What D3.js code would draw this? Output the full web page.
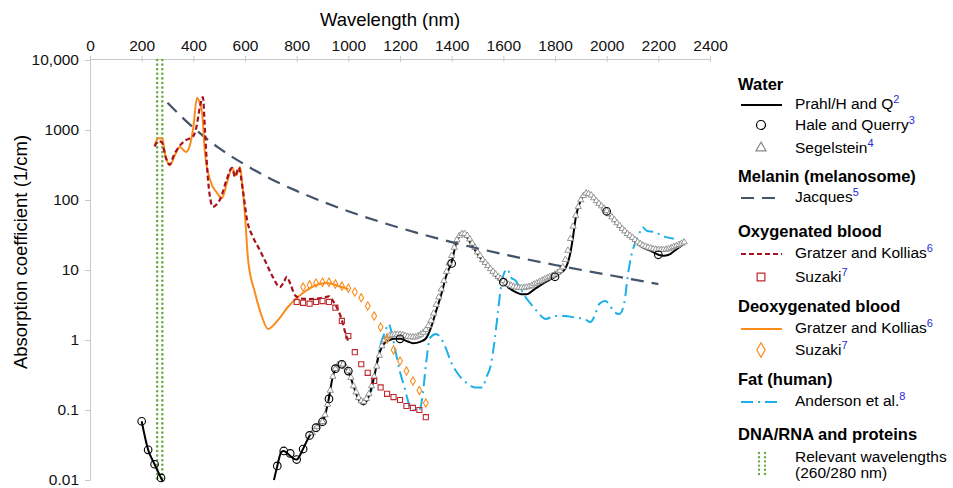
<!DOCTYPE html>
<html>
<head>
<meta charset="utf-8">
<script src="https://cdn.jsdelivr.net/npm/d3@7"></script>
<style>
  body { margin: 0; background: #fff; }
  svg { font-family: "Liberation Sans", Arial, sans-serif; }
</style>
</head>
<body>
<svg id="chart" width="953" height="488"></svg>
<script>
// axis ticks
const wlTicks = [0, 200, 400, 600, 800, 1000, 1200, 1400, 1600, 1800, 2000, 2200, 2400];
const absTicks = [0.01, 0.1, 1, 10, 100, 1000, 10000];

// water (Prahl / Hale and Querry) line, null = gap
const prahl = [
  [200, 0.069], [225, 0.027], [250, 0.0168], [275, 0.0107], [282, 0.0095], [500, null],
  [712, 0.0100], [725, 0.0159], [740, 0.025], [750, 0.026], [770, 0.023], [790, 0.020], [800, 0.0196],
  [825, 0.028], [850, 0.043], [875, 0.056], [900, 0.068], [920, 0.12], [940, 0.30], [960, 0.44],
  [975, 0.46], [990, 0.40], [1000, 0.36], [1020, 0.22], [1040, 0.14], [1060, 0.12], [1080, 0.16],
  [1100, 0.30], [1120, 0.65], [1140, 0.90], [1160, 1.00], [1180, 1.04], [1200, 1.04], [1230, 0.95],
  [1250, 0.90], [1280, 0.95], [1300, 1.05], [1320, 1.5], [1340, 2.6], [1360, 4.5], [1380, 8.5],
  [1400, 13], [1420, 26], [1440, 32], [1460, 29], [1480, 22], [1500, 17], [1520, 13.5], [1550, 10.5],
  [1580, 7.5], [1600, 6.7], [1620, 5.6], [1650, 4.8], [1670, 4.5], [1690, 4.5], [1720, 5.3],
  [1750, 6.3], [1780, 7.3], [1800, 8.0], [1820, 9.0], [1840, 10.5], [1860, 18], [1870, 30],
  [1880, 55], [1900, 100], [1920, 125], [1940, 115], [1960, 95], [1980, 80], [2000, 69], [2020, 56],
  [2040, 46], [2060, 38], [2080, 33], [2100, 28], [2120, 24], [2140, 21], [2160, 19.5], [2180, 18],
  [2200, 16.5], [2220, 16], [2240, 16.5], [2260, 18.5], [2280, 21], [2300, 24]
];

const haleQuerry = [
  [200, 0.069], [225, 0.027], [250, 0.0168], [275, 0.0107], [725, 0.0159], [750, 0.026],
  [775, 0.024], [800, 0.0196], [825, 0.0277], [850, 0.0433], [875, 0.056], [900, 0.068],
  [925, 0.144], [950, 0.39], [975, 0.45], [1000, 0.36], [1200, 1.04], [1400, 12.4],
  [1600, 6.7], [1800, 8.0], [2000, 69], [2200, 16.5]
];

const segelstein = [
  [860, 0.047], [870, 0.052], [880, 0.058], [890, 0.063], [900, 0.068], [910, 0.085], [920, 0.12],
  [930, 0.19], [940, 0.30], [950, 0.39], [960, 0.44], [970, 0.46], [980, 0.45], [990, 0.41],
  [1000, 0.36], [1010, 0.29], [1020, 0.22], [1030, 0.18], [1040, 0.15], [1050, 0.135], [1060, 0.13],
  [1070, 0.145], [1080, 0.17], [1090, 0.22], [1100, 0.30], [1110, 0.42], [1120, 0.60], [1130, 0.82],
  [1140, 1.0], [1150, 1.1], [1160, 1.15], [1170, 1.18], [1180, 1.2], [1190, 1.2], [1200, 1.2],
  [1210, 1.18], [1220, 1.15], [1230, 1.12], [1240, 1.1], [1250, 1.1], [1260, 1.1], [1270, 1.14],
  [1280, 1.2], [1290, 1.28], [1300, 1.4], [1310, 1.6], [1320, 1.9], [1330, 2.4], [1340, 3.2],
  [1350, 4.1], [1360, 5.3], [1370, 7.0], [1380, 9.5], [1390, 12.5], [1400, 16], [1410, 21],
  [1420, 27], [1430, 31], [1440, 33], [1450, 33], [1460, 31], [1470, 27.5], [1480, 24], [1490, 21],
  [1500, 18], [1510, 16], [1520, 14], [1530, 12.7], [1540, 11.5], [1550, 10.4], [1560, 9.5],
  [1570, 8.7], [1580, 8], [1590, 7.5], [1600, 7], [1610, 6.6], [1620, 6.2], [1630, 6.0], [1640, 5.8],
  [1650, 5.7], [1660, 5.6], [1670, 5.6], [1680, 5.6], [1690, 5.7], [1700, 5.8], [1710, 6.0],
  [1720, 6.3], [1730, 6.5], [1740, 6.8], [1750, 7.1], [1760, 7.4], [1770, 7.7], [1780, 8],
  [1790, 8.3], [1800, 8.7], [1810, 9.2], [1820, 9.8], [1830, 11], [1840, 14], [1850, 19], [1860, 28],
  [1870, 42], [1880, 60], [1890, 80], [1900, 100], [1910, 115], [1920, 125], [1930, 123], [1940, 117],
  [1950, 107], [1960, 97], [1970, 89], [1980, 82], [1990, 76], [2000, 70], [2010, 63], [2020, 57],
  [2030, 52], [2040, 47], [2050, 43], [2060, 39], [2070, 36], [2080, 33], [2090, 31], [2100, 29],
  [2110, 27], [2120, 25], [2130, 23.7], [2140, 22.5], [2150, 21.7], [2160, 21], [2170, 20.5],
  [2180, 20], [2190, 19.7], [2200, 19.5], [2210, 19.5], [2220, 19.5], [2230, 19.7], [2240, 20],
  [2250, 20.7], [2260, 21.5], [2270, 22.2], [2280, 23], [2290, 24], [2300, 25]
];

// melanin (Jacques)
const melanin = [
  [300, 2450], [400, 1080], [500, 550], [600, 320], [700, 200], [800, 135], [1000, 69],
  [1200, 40], [1400, 25], [1600, 16.8], [1800, 11.8], [2000, 8.6], [2200, 6.3]
];

// oxygenated blood
const oxyGratzer = [
  [250, 580], [265, 690], [278, 670], [292, 420], [308, 320], [325, 440], [345, 580], [372, 720],
  [398, 800], [412, 1100], [425, 2100], [437, 2950], [445, 1000], [457, 190], [476, 80], [492, 88],
  [505, 105], [528, 190], [550, 287], [561, 215], [576, 290], [592, 135], [608, 52], [630, 30],
  [655, 20], [680, 13], [708, 7.9], [735, 5.7], [750, 6.7], [762, 8.0], [775, 6.4], [795, 4.3],
  [820, 3.9], [850, 3.85], [880, 3.9], [910, 4.1], [925, 4.2], [945, 3.4], [970, 2.2], [992, 1.15],
  [1000, 0.95]
];
const oxySuzaki = [
  [800, 3.5], [825, 3.4], [850, 3.3], [875, 3.5], [900, 3.6], [925, 3.5], [950, 2.9], [975, 1.87],
  [1000, 1.14], [1025, 0.67], [1050, 0.45], [1075, 0.34], [1100, 0.26], [1125, 0.21], [1150, 0.17],
  [1175, 0.153], [1200, 0.139], [1225, 0.114], [1250, 0.107], [1275, 0.1], [1300, 0.079]
];

// deoxygenated blood
const deoxyGratzer = [
  [250, 610], [265, 760], [279, 760], [292, 430], [310, 316], [330, 450], [348, 571], [372, 485],
  [387, 610], [400, 1100], [414, 2870], [424, 2500], [434, 1750], [445, 469], [465, 193], [492, 126],
  [511, 107], [530, 175], [550, 287], [565, 225], [581, 296], [588, 190], [600, 60], [612, 14],
  [639, 4.7], [666, 2.13], [689, 1.44], [728, 1.93], [766, 2.96], [805, 4.1], [859, 5.7],
  [917, 6.5], [968, 5.8], [1000, 5.3]
];
const deoxySuzaki = [
  [825, 5.7], [850, 6.1], [875, 6.5], [900, 6.7], [925, 6.7], [950, 6.3], [975, 5.9], [1000, 5.5],
  [1025, 4.85], [1050, 4.0], [1075, 3.06], [1100, 2.2], [1125, 1.53], [1150, 1.03], [1175, 0.72],
  [1200, 0.5], [1225, 0.36], [1250, 0.26], [1275, 0.19], [1300, 0.126]
];

// fat (Anderson et al.)
const fat = [
  [1088, 0.18], [1110, 0.45], [1123, 0.82], [1142, 1.3], [1156, 1.7], [1167, 1.3], [1181, 0.74],
  [1200, 0.35], [1219, 0.2], [1231, 0.135], [1243, 0.103], [1260, 0.098], [1277, 0.103],
  [1289, 0.18], [1300, 0.43], [1316, 1.07], [1339, 1.22], [1374, 0.82], [1397, 0.49], [1424, 0.33],
  [1463, 0.235], [1490, 0.21], [1521, 0.21], [1532, 0.28], [1551, 0.43], [1567, 1.03], [1579, 2.5],
  [1590, 5.4], [1605, 9.4], [1617, 10.3], [1628, 7.9], [1648, 7.0], [1663, 5.7], [1683, 4.25],
  [1706, 3.3], [1733, 2.5], [1764, 2.0], [1798, 2.2], [1837, 2.2], [1876, 2.1], [1914, 2.0],
  [1937, 1.8], [1953, 2.2], [1972, 3.3], [1995, 3.6], [2014, 3.06], [2030, 2.5], [2049, 2.35],
  [2069, 3.5], [2080, 7.4], [2092, 14], [2111, 25], [2126, 33], [2138, 41], [2157, 36], [2184, 35],
  [2223, 30], [2260, 28]
];

// DNA/RNA and proteins
const dnaWavelengths = [260, 280];

const svg = d3.select('#chart');

const x = d3.scaleLinear().domain([0, 2400]).range([90, 710]);
const y = d3.scaleLog().domain([0.01, 10000]).range([480, 60]);

const colors = {
    water: '#000',
    segel: '#8a8a8a',
    melanin: '#44546a',
    oxy: '#a5121e',
    oxyMark: '#c0282d',
    deoxy: '#fb8c1c',
    fat: '#1cb0e8',
    dna: '#6aac45'
};

// axes
const topAxis = svg.append('g')
    .attr('transform', 'translate(0,59)')
    .call(d3.axisTop(x).tickValues(wlTicks).tickSize(3).tickPadding(5).tickFormat(d3.format('d')));
topAxis.selectAll('line').attr('y1', 3).attr('y2', -3);

svg.append('g')
    .attr('transform', 'translate(90,0)')
    .call(d3.axisLeft(y).tickValues(absTicks).tickSize(5).tickPadding(6)
        .tickFormat(d => d === 10000 ? '10,000' : d >= 1 ? String(d) : d3.format('.2~f')(d)));

svg.selectAll('.domain, .tick line').attr('stroke', '#c8c8c8');
svg.selectAll('.tick text').attr('font-size', 15.5).attr('fill', '#111')
    .attr('font-family', '"Liberation Sans", Arial, sans-serif');

svg.append('text')
    .attr('x', 390).attr('y', 26)
    .attr('text-anchor', 'middle')
    .attr('font-size', 18.5)
    .text('Wavelength (nm)');

svg.append('text')
    .attr('transform', 'translate(27,252) rotate(-90)')
    .attr('text-anchor', 'middle')
    .attr('font-size', 18.5)
    .text('Absorption coefficient (1/cm)');

const line = d3.line()
    .defined(d => d[1] != null)
    .x(d => x(d[0]))
    .y(d => y(d[1]))
    .curve(d3.curveMonotoneX);

// DNA/RNA dotted lines
svg.selectAll('.dna')
    .data(dnaWavelengths)
    .enter().append('line')
    .attr('x1', d => x(d)).attr('x2', d => x(d))
    .attr('y1', y(10000)).attr('y2', y(0.01))
    .attr('stroke', colors.dna)
    .attr('stroke-width', 2.6)
    .attr('stroke-linecap', 'round')
    .attr('stroke-dasharray', '0,4.6');

// fat
svg.append('path')
    .datum(fat)
    .attr('d', line)
    .attr('fill', 'none')
    .attr('stroke', colors.fat)
    .attr('stroke-width', 2)
    .attr('stroke-dasharray', '12,5,2,5');

// water
svg.append('path')
    .datum(prahl)
    .attr('d', line)
    .attr('fill', 'none')
    .attr('stroke', colors.water)
    .attr('stroke-width', 2);

svg.selectAll('.segel')
    .data(segelstein)
    .enter().append('path')
    .attr('transform', d => `translate(${x(d[0])},${y(d[1])})`)
    .attr('d', d3.symbol().type(d3.symbolTriangle).size(17))
    .attr('fill', '#fff')
    .attr('stroke', colors.segel)
    .attr('stroke-width', 0.9);

svg.selectAll('.hq')
    .data(haleQuerry)
    .enter().append('circle')
    .attr('cx', d => x(d[0]))
    .attr('cy', d => y(d[1]))
    .attr('r', 3.8)
    .attr('fill', 'none')
    .attr('stroke', colors.water)
    .attr('stroke-width', 1.1);

// melanin
svg.append('path')
    .datum(melanin)
    .attr('d', line)
    .attr('fill', 'none')
    .attr('stroke', colors.melanin)
    .attr('stroke-width', 2.2)
    .attr('stroke-dasharray', '13,8');

// blood
svg.append('path')
    .datum(deoxyGratzer)
    .attr('d', line)
    .attr('fill', 'none')
    .attr('stroke', colors.deoxy)
    .attr('stroke-width', 2);

svg.append('path')
    .datum(oxyGratzer)
    .attr('d', line)
    .attr('fill', 'none')
    .attr('stroke', colors.oxy)
    .attr('stroke-width', 2.2)
    .attr('stroke-dasharray', '5,3');

svg.selectAll('.oxys')
    .data(oxySuzaki)
    .enter().append('path')
    .attr('transform', d => `translate(${x(d[0])},${y(d[1])})`)
    .attr('d', d3.symbol().type(d3.symbolSquare).size(26))
    .attr('fill', 'none')
    .attr('stroke', colors.oxyMark)
    .attr('stroke-width', 1.1);

svg.selectAll('.deoxys')
    .data(deoxySuzaki)
    .enter().append('path')
    .attr('transform', d => `translate(${x(d[0])},${y(d[1])})`)
    .attr('d', d3.symbol().type(d3.symbolDiamond).size(20))
    .attr('fill', 'none')
    .attr('stroke', colors.deoxy)
    .attr('stroke-width', 1.1);

// legend
const legendHeads = [
    { text: 'Water', y: 90 },
    { text: 'Melanin (melanosome)', y: 182 },
    { text: 'Oxygenated blood', y: 237 },
    { text: 'Deoxygenated blood', y: 312 },
    { text: 'Fat (human)', y: 385 },
    { text: 'DNA/RNA and proteins', y: 440 }
];
const legendItems = [
    { text: 'Prahl/H and Q', sup: '2', y: 109, kind: 'line', color: colors.water, dash: null, w: 2 },
    { text: 'Hale and Querry', sup: '3', y: 130, kind: 'circle', color: colors.water },
    { text: 'Segelstein', sup: '4', y: 153, kind: 'triangle', color: colors.segel },
    { text: 'Jacques', sup: '5', y: 202, kind: 'line', color: colors.melanin, dash: '13,8', w: 2.2 },
    { text: 'Gratzer and Kollias', sup: '6', y: 258, kind: 'line', color: colors.oxy, dash: '5,3', w: 2.2 },
    { text: 'Suzaki', sup: '7', y: 282, kind: 'square', color: colors.oxyMark },
    { text: 'Gratzer and Kollias', sup: '6', y: 333, kind: 'line', color: colors.deoxy, dash: null, w: 2 },
    { text: 'Suzaki', sup: '7', y: 355, kind: 'diamond', color: colors.deoxy },
    { text: 'Anderson et al.', sup: '8', y: 406, kind: 'line', color: colors.fat, dash: '12,5,2,5', w: 2 },
    { text: 'Relevant wavelengths', sup: '', y: 462, kind: 'dots', color: colors.dna },
];

const legend = svg.append('g');

legend.selectAll('.lh')
    .data(legendHeads)
    .enter().append('text')
    .attr('x', 738).attr('y', d => d.y)
    .attr('font-size', 16.5).attr('font-weight', 'bold')
    .text(d => d.text);

const li = legend.selectAll('.li')
    .data(legendItems)
    .enter().append('g')
    .attr('transform', d => `translate(0,${d.y})`);

const txt = li.append('text')
    .attr('x', 795).attr('y', 0)
    .attr('font-size', 15.5);
txt.append('tspan').text(d => d.text);
txt.append('tspan')
    .attr('dy', -6).attr('font-size', 11).attr('fill', '#2a2ad8')
    .text(d => d.sup);

li.filter(d => d.kind === 'line').append('line')
    .attr('x1', 741).attr('x2', 782).attr('y1', -4).attr('y2', -4)
    .attr('stroke', d => d.color)
    .attr('stroke-width', d => d.w)
    .attr('stroke-dasharray', d => d.dash);

li.filter(d => d.kind === 'circle').append('circle')
    .attr('cx', 761).attr('cy', -5).attr('r', 4.5)
    .attr('fill', 'none').attr('stroke', d => d.color).attr('stroke-width', 1.2);

const symType = { triangle: d3.symbolTriangle, square: d3.symbolSquare, diamond: d3.symbolDiamond };
li.filter(d => symType[d.kind]).append('path')
    .attr('transform', 'translate(761,-5)')
    .attr('d', d => d3.symbol().type(symType[d.kind]).size(d.kind === 'triangle' ? 45 : 60)())
    .attr('fill', 'none').attr('stroke', d => d.color).attr('stroke-width', 1.2);

li.filter(d => d.kind === 'dots').selectAll('line')
    .data([759, 765])
    .enter().append('line')
    .attr('x1', d => d).attr('x2', d => d)
    .attr('y1', -9).attr('y2', 12)
    .attr('stroke', colors.dna).attr('stroke-width', 2.4)
    .attr('stroke-linecap', 'round').attr('stroke-dasharray', '0,4.2');

legend.append('text')
    .attr('x', 795).attr('y', 478)
    .attr('font-size', 15.5)
    .text('(260/280 nm)');
</script>
</body>
</html>
